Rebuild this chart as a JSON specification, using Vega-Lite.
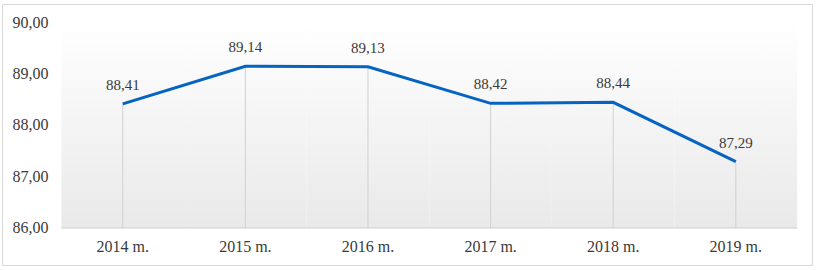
{
  "$schema": "https://vega.github.io/schema/vega-lite/v6.json",
  "width": 810,
  "height": 261,
  "autosize": "none",
  "padding": {"left": 2, "top": 4, "right": 8, "bottom": 5},
  "background": "white",
  "config": {
    "view": {"stroke": "#d9d9d9", "strokeWidth": 1},
    "font": "Liberation Serif, Times New Roman, serif",
    "axis": {"labelFont": "Liberation Serif, Times New Roman, serif"},
    "text": {"font": "Liberation Serif, Times New Roman, serif"},
    "locale": {"number": {"decimal": ",", "thousands": " ", "grouping": [3], "currency": ["", ""]}}
  },
  "data": {
    "values": [
      {"year": "2014 m.", "value": 88.41},
      {"year": "2015 m.", "value": 89.14},
      {"year": "2016 m.", "value": 89.13},
      {"year": "2017 m.", "value": 88.42},
      {"year": "2018 m.", "value": 88.44},
      {"year": "2019 m.", "value": 87.29}
    ]
  },
  "encoding": {
    "x": {
      "field": "year",
      "type": "nominal",
      "sort": null,
      "scale": {"type": "band", "paddingInner": 0, "paddingOuter": 0.303, "align": 0.8},
      "axis": {
        "title": null,
        "domain": false,
        "ticks": false,
        "labelAngle": 0,
        "labelFont": "Liberation Serif",
        "labelFontSize": 16,
        "labelColor": "#3a3a3a",
        "labelPadding": 10,
        "offset": -37
      }
    }
  },
  "layer": [
    {
      "mark": {
        "type": "rect",
        "fill": {
          "gradient": "linear",
          "x1": 0, "y1": 0, "x2": 0, "y2": 1,
          "stops": [
            {"offset": 0, "color": "#ffffff"},
            {"offset": 1, "color": "#e9e9e9"}
          ]
        }
      },
      "encoding": {
        "y": {
          "datum": 86,
          "type": "quantitative",
          "scale": {"domain": [85.28, 90.35], "nice": false, "zero": false},
          "axis": {
            "title": null,
            "values": [86, 87, 88, 89, 90],
            "format": ".2f",
            "domain": false,
            "ticks": false,
            "grid": false,
            "labelFont": "Liberation Serif",
            "labelFontSize": 16,
            "labelColor": "#3a3a3a",
            "labelPadding": 2,
            "offset": -48
          }
        },
        "y2": {"datum": 90}
      }
    },
    {
      "mark": {"type": "rect", "fill": null, "stroke": "#d9d9d9", "strokeWidth": 1},
      "encoding": {
        "y": {"datum": 86, "type": "quantitative"},
        "y2": {"datum": 86}
      }
    },
    {
      "mark": {"type": "rule", "color": "#d0d0d0", "strokeWidth": 1},
      "encoding": {
        "y": {"field": "value", "type": "quantitative"},
        "y2": {"datum": 86}
      }
    },
    {
      "mark": {"type": "line", "color": "#0563c1", "strokeWidth": 3},
      "encoding": {
        "y": {"field": "value", "type": "quantitative"}
      }
    },
    {
      "mark": {"type": "text", "font": "Liberation Serif", "fontSize": 15, "color": "#3a3a3a", "baseline": "middle", "dy": -19},
      "encoding": {
        "y": {"field": "value", "type": "quantitative"},
        "text": {"field": "value", "type": "quantitative", "format": ".2f"}
      }
    }
  ]
}
